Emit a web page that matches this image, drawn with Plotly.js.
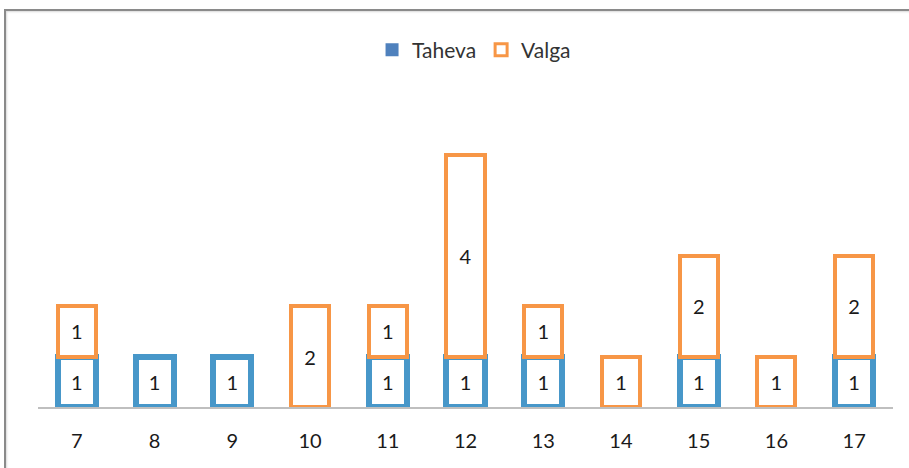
<!DOCTYPE html>
<html><head><meta charset="utf-8">
<script src="https://cdn.plot.ly/plotly-3.0.1.min.js"></script>
<style>
html,body{margin:0;padding:0;background:#fff;}
#wrap{position:relative;width:909px;height:468px;overflow:hidden;}
#chart{position:absolute;left:0;top:0;width:909px;height:468px;}
#frame{position:absolute;left:4px;top:9px;width:920px;height:480px;border-top:2px solid #8a8a8a;border-left:2px solid #8a8a8a;box-shadow:inset 1px 1px 2px rgba(0,0,0,0.15);pointer-events:none;}
</style></head>
<body><div id="wrap"><div id="chart"></div><div id="frame"></div></div>
<script>
const categories = ['7','8','9','10','11','12','13','14','15','16','17'];
const taheva = [1,1,1,0,1,1,1,0,1,0,1];
const valga  = [1,0,0,2,1,4,1,1,2,1,2];
const seriesNames = ['Taheva','Valga'];

const font = 'Lato, "Open Sans", sans-serif';
const toY = a => a.map(v => v ? v : null);
const toT = a => a.map(v => v ? String(v) : '');

const traces = [
  {type:'bar', x:categories, y:toY(taheva), text:toT(taheva), name:seriesNames[0], showlegend:false,
   textposition:'inside', insidetextanchor:'middle', textangle:0,
   textfont:{family:font,size:20,color:'#1a1a1a'},
   marker:{color:'#ffffff', line:{color:'#4797c9', width:6}}, hoverinfo:'x+y'},
  {type:'bar', x:categories, y:toY(valga), text:toT(valga), name:seriesNames[1], showlegend:false,
   textposition:'inside', insidetextanchor:'middle', textangle:0,
   textfont:{family:font,size:20,color:'#1a1a1a'},
   marker:{color:'#ffffff', line:{color:'#f79646', width:4}}, hoverinfo:'x+y'},
  {type:'scatter', mode:'markers', x:[null], y:[null], name:seriesNames[0],
   marker:{symbol:'square', size:13, color:'#4f81bd'}},
  {type:'scatter', mode:'markers', x:[null], y:[null], name:seriesNames[1],
   marker:{symbol:'square-open', size:12, color:'#f79646', line:{width:3, color:'#f79646'}}}
];

const layout = {
  width:909, height:468,
  margin:{l:38, r:16, t:104, b:61},
  paper_bgcolor:'#ffffff', plot_bgcolor:'#ffffff',
  barmode:'stack', bargap:0.51,
  showlegend:true,
  legend:{orientation:'h', x:0.51, xanchor:'center', y:1.178, yanchor:'middle', traceorder:'normal',
          font:{family:font, size:21, color:'#333333'}, itemwidth:30, tracegroupgap:0},
  xaxis:{type:'category', showline:true, linecolor:'#bfbfbf', linewidth:1.5,
         ticks:'', showgrid:false, zeroline:false,
         tickfont:{family:font, size:20, color:'#1a1a1a'}, ticklabelstandoff:15},
  yaxis:{range:[0,6], visible:false, showgrid:false, zeroline:false},
  font:{family:font}
};

Plotly.newPlot('chart', traces, layout, {displayModeBar:false, staticPlot:true});
</script>
</body></html>
